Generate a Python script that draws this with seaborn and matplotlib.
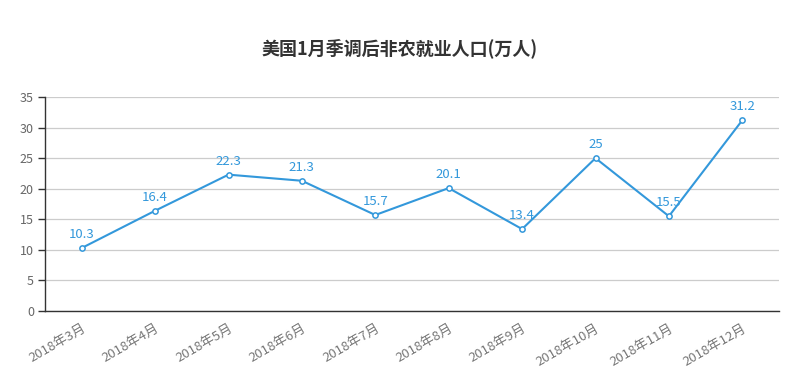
import numpy as np
import pandas as pd
import matplotlib
matplotlib.use('Agg')
import matplotlib.pyplot as plt
import seaborn as sns

# data
months = ['2018年3月', '2018年4月', '2018年5月', '2018年6月', '2018年7月',
          '2018年8月', '2018年9月', '2018年10月', '2018年11月', '2018年12月']
values = [10.3, 16.4, 22.3, 21.3, 15.7, 20.1, 13.4, 25, 15.5, 31.2]
value_labels = ['10.3', '16.4', '22.3', '21.3', '15.7', '20.1', '13.4', '25', '15.5', '31.2']
y_ticks = [0, 5, 10, 15, 20, 25, 30, 35]

sns.set_style('white')
plt.rcParams['font.family'] = ['Noto Sans CJK SC', 'DejaVu Sans']

df = pd.DataFrame({'pos': np.arange(len(months)), 'value': values})

fig = plt.figure(figsize=(8, 3.9), dpi=100)
ax = fig.add_axes([45 / 800, 1 - 311 / 390, (779 - 45) / 800, (311 - 97) / 390])

line_color = '#3398DB'
sns.lineplot(data=df, x='pos', y='value', ax=ax, color=line_color, linewidth=1.5,
             marker='o', markersize=3.8, markerfacecolor='white',
             markeredgecolor=line_color, markeredgewidth=1.1)

for x, y, t in zip(df['pos'], df['value'], value_labels):
    ax.annotate(t, (x, y), xytext=(0, 5), textcoords='offset points',
                ha='center', va='bottom', color=line_color, fontsize=9.5)

ax.set_xlim(-0.5, len(months) - 0.5)
ax.set_ylim(0, 35)
ax.set_yticks(y_ticks)
ax.set_yticklabels([str(v) for v in y_ticks], color='#666666', fontsize=9)
ax.yaxis.grid(True, color='#cccccc', linewidth=0.9)
ax.set_axisbelow(True)

# ticks at band boundaries, labels at band centers
ax.set_xticks(np.arange(-0.5, len(months)), minor=False)
ax.set_xticklabels([])
ax.set_xticks(np.arange(len(months)), minor=True)
ax.set_xticklabels(months, minor=True, rotation=30, ha='right',
                   rotation_mode='anchor', color='#777777', fontsize=9.5)
ax.tick_params(axis='x', which='major', length=5, color='#333333', width=1)
ax.tick_params(axis='x', which='minor', length=0, pad=8)
ax.tick_params(axis='y', length=5, color='#333333', width=1, pad=3)
ax.tick_params(axis='y', left=True)

for s in ['top', 'right']:
    ax.spines[s].set_visible(False)
for s in ['left', 'bottom']:
    ax.spines[s].set_color('#333333')
    ax.spines[s].set_linewidth(1)

ax.set_xlabel('')
ax.set_ylabel('')

fig.text(0.5, 1 - 48 / 390, '美国1月季调后非农就业人口(万人)', ha='center', va='center',
         fontsize=13, fontweight='bold', color='#333333')

fig.savefig('out.png', dpi=100)
